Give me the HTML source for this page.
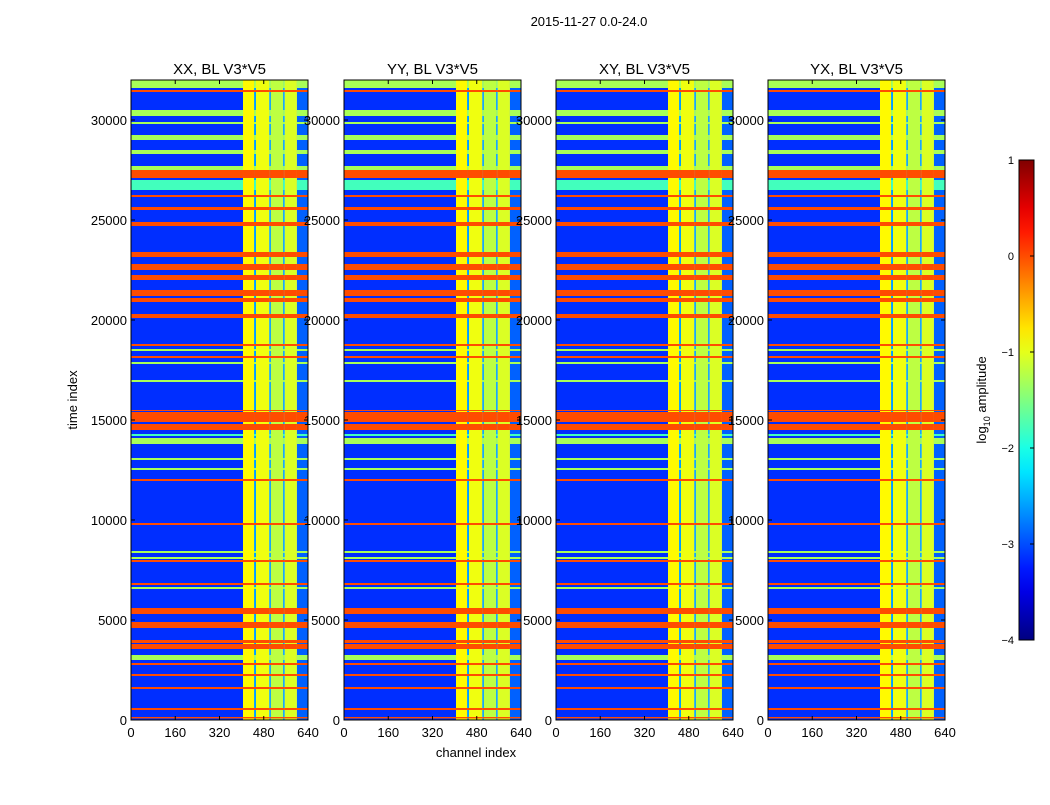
<!DOCTYPE html>
<html><head><meta charset="utf-8">
<style>
body{margin:0;background:#fff;font-family:"Liberation Sans",sans-serif;}
svg text{font-family:"Liberation Sans",sans-serif;}
</style></head>
<body>
<svg id="chart" width="1050" height="800" viewBox="0 0 1050 800" xmlns="http://www.w3.org/2000/svg">
<text x="589" y="26" font-size="13" text-anchor="middle">2015-11-27 0.0-24.0</text>
<g id="panels"></g>
<text x="476" y="757" font-size="13" text-anchor="middle">channel index</text>
<text transform="translate(77,400) rotate(-90)" font-size="13" text-anchor="middle">time index</text>
<g id="cbar"></g>
</svg>
<script>
const titles = ["XX, BL V3*V5","YY, BL V3*V5","XY, BL V3*V5","YX, BL V3*V5"];
const xTicks = [0,160,320,480,640];
const yTicks = [0,5000,10000,15000,20000,25000,30000];
const cbTicks = [1,0,-1,-2,-3,-4];
const cbLabels = ["1","0","\u22121","\u22122","\u22123","\u22124"];
const panelLefts = [131,344,556,768];
// channel segments: start, end, log10 level
const colStart = [0,405,445,452,500,506,550,556,600];
const colEnd   = [405,445,452,500,506,550,556,600,640];
const colLevel = [-3.15,-0.85,-2.6,-0.95,-2.6,-1.2,-2.6,-1.05,-2.9];
// time bands: start, end, log10 level
const rowStart = [31600,31400,30200,29800,29000,28300,27500,27100,26500,26150,25500,24700,23150,22500,22000,21200,20900,20100,18700,18450,18100,17800,16900,15600,14900,14500,14200,13800,13000,12500,11950,9750,8350,8050,7900,6750,6550,5300,4600,3850,3550,3000,2750,2200,1550,500,80];
const rowEnd   = [32000,31500,30500,29900,29250,28500,27700,27500,27000,26250,25650,24900,23400,22800,22250,21500,21100,20300,18800,18550,18200,17900,17000,15500,15400,14800,14300,14100,13100,12600,12050,9850,8450,8150,8000,6850,6650,5600,4900,4000,3800,3250,2850,2300,1650,600,150];
const rowLevel = [-1.3,0,-1.3,-1.3,-1.3,-1.3,-1.3,0,-1.8,0,0,0,0,0,0,0,0,0,0,-1.3,0,-1.3,-1.3,0,0,0,-1.8,-1.3,-1.3,-1.3,0,0,-1.3,-1.3,0,0,-1.3,0,0,0,0,-1.3,0,0,0,0,0];

const NS="http://www.w3.org/2000/svg";
function mk(tag,attrs,parent){const e=document.createElementNS(NS,tag);for(const k in attrs)e.setAttribute(k,attrs[k]);parent.appendChild(e);return e;}
function jet(v){
  let x=(v+4)/5; x=Math.max(0,Math.min(1,x));
  const r=Math.max(0,Math.min(1,1.5-Math.abs(4*x-3)));
  const g=Math.max(0,Math.min(1,1.5-Math.abs(4*x-2)));
  const b=Math.max(0,Math.min(1,1.5-Math.abs(4*x-1)));
  return `rgb(${Math.round(r*255)},${Math.round(g*255)},${Math.round(b*255)})`;
}
const PT=80,PB=720,PW=177;
function yScale(t){return PB-(t/32000)*(PB-PT);}
const panels=document.getElementById('panels');
panelLefts.forEach((L,pi)=>{
  const xScale=c=>L+(c/640)*PW;
  const g=mk('g',{},panels);
  
  
  const t=mk('text',{x:L+PW/2,y:74,'font-size':15,'text-anchor':'middle'},g);
  t.textContent=titles[pi];
  
  
  colStart.forEach((c,i)=>{
    const r=mk('rect',{x:xScale(c),y:PT,width:xScale(colEnd[i])-xScale(c),height:PB-PT,fill:jet(colLevel[i])},g);
    
    
  });
  rowStart.forEach((s,i)=>{
    const lv=rowLevel[i];
    colStart.forEach((c,j)=>{
      const v=Math.max(lv,colLevel[j]);
      if(v===colLevel[j])return;
      const r=mk('rect',{x:xScale(c),y:yScale(rowEnd[i]),width:xScale(colEnd[j])-xScale(c),height:Math.max(1,yScale(s)-yScale(rowEnd[i])),fill:jet(v)},g);
      
      
    });
  });
  mk('rect',{x:L,y:PT,width:PW,height:PB-PT,fill:'none',stroke:'#000','stroke-width':1},g);
  xTicks.forEach(v=>{
    const x=xScale(v);
    mk('line',{x1:x,x2:x,y1:PB,y2:PB-4,stroke:'#000'},g);
    mk('line',{x1:x,x2:x,y1:PT,y2:PT+4,stroke:'#000'},g);
    const tx=mk('text',{x:x,y:PB+17,'font-size':13,'text-anchor':'middle'},g);
    tx.textContent=v;
    
    
  });
  yTicks.forEach(v=>{
    const y=yScale(v);
    mk('line',{x1:L,x2:L+4,y1:y,y2:y,stroke:'#000'},g);
    mk('line',{x1:L+PW,x2:L+PW-4,y1:y,y2:y,stroke:'#000'},g);
    const ty=mk('text',{x:L-4,y:y+5,'font-size':13,'text-anchor':'end'},g);
    ty.textContent=v;
    
    
  });
});
const cb=document.getElementById('cbar');
const CX=1019,CW=15,CT=160,CB=640;
const defs=mk('defs',{},cb);
const grad=mk('linearGradient',{id:'jetg',x1:0,y1:1,x2:0,y2:0},defs);
for(let i=0;i<=20;i++){mk('stop',{offset:i/20,'stop-color':jet(-4+5*i/20)},grad);}
mk('rect',{x:CX,y:CT,width:CW,height:CB-CT,fill:'url(#jetg)',stroke:'#000'},cb);
const cbScale=v=>CB-((v+4)/5)*(CB-CT);
cbTicks.forEach((v,i)=>{
  const y=cbScale(v);
  mk('line',{x1:CX+CW-4,x2:CX+CW,y1:y,y2:y,stroke:'#000'},cb);
  const t=mk('text',{x:CX-5,y:y+4,'font-size':11,'text-anchor':'end'},cb);
  t.textContent=cbLabels[i];
  
  
});
const cl=mk('text',{transform:'translate(986,400) rotate(-90)','font-size':13,'text-anchor':'middle'},cb);
cl.innerHTML='log<tspan font-size="9" dy="4">10</tspan><tspan dy="-4"> amplitude</tspan>';


</script>
</body></html>
